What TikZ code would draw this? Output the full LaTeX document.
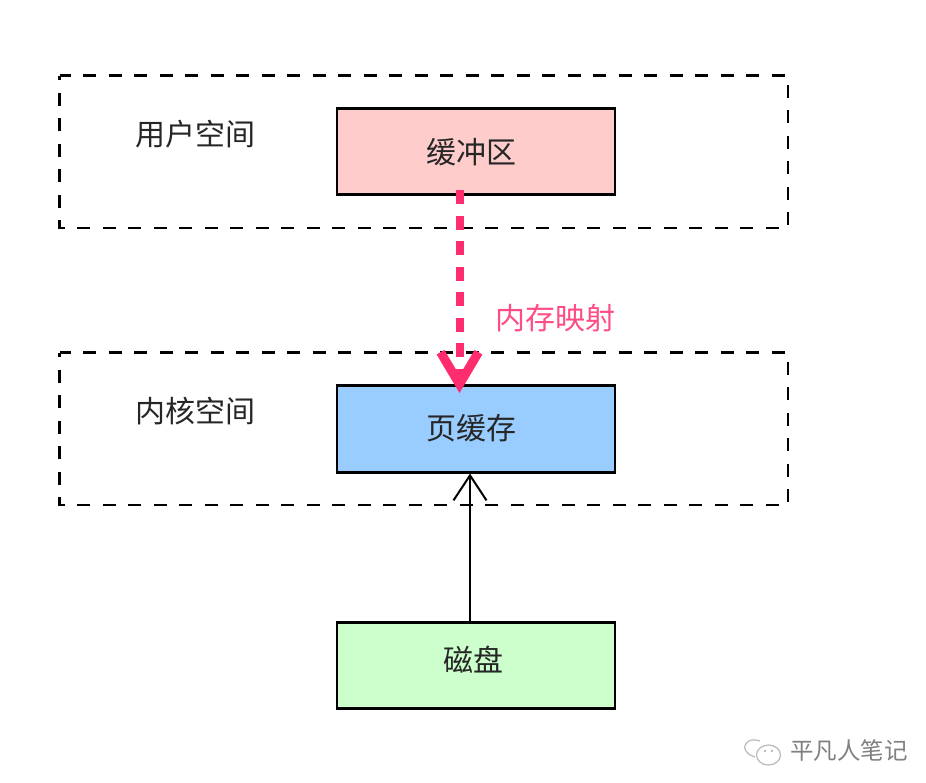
\documentclass[tikz,border=0pt]{standalone}
\usepackage{fontspec}
\setmainfont{Noto Sans CJK SC}
\usetikzlibrary{arrows.meta,calc}
\definecolor{pinkline}{HTML}{FF2D6E}
\definecolor{wm}{HTML}{808080}
\tikzset{
  x=1pt,y=-1pt,
  zone/.style={draw=black,line width=2.4pt,dash pattern=on 13pt off 12.5pt,dash phase=2pt},
  solidbox/.style={draw=black,line width=2.6pt,minimum width=278pt,minimum height=86.5pt,inner sep=0pt},
  boxlabel/.style={inner sep=0pt,font=\fontsize{30}{31}\selectfont,text=black!85},
  maplabel/.style={inner sep=0pt,font=\fontsize{30}{31}\selectfont,text=pinkline!85},
  wmlabel/.style={inner sep=0pt,font=\fontsize{23.5}{24}\selectfont,text=wm},
  maparrow/.style={draw=pinkline,line width=8pt,dash pattern=on 14pt off 11.5pt,-{Straight Barb[length=32pt,width=38pt,line width=9pt]}},
  readarrow/.style={draw=black,line width=2.6pt,-{Straight Barb[length=25pt,width=33pt,line width=2pt]}},
  bubble/.style={draw=wm!55,line width=1.2pt},
}
\begin{document}
\begin{tikzpicture}
\useasboundingbox (0,0) rectangle (926,782);
\fill[white] (0,0) rectangle (926,782);
\draw[zone] (59.5,75.5) -- (788,75.5) -- (788,228) -- (59.5,228) -- cycle;
\draw[zone] (59.5,352.5) -- (788,352.5) -- (788,505) -- (59.5,505) -- cycle;
\node[solidbox,fill={rgb,255:red,255;green,204;blue,204}] (buffer) at (476,151.5) {};
\node[solidbox,fill={rgb,255:red,153;green,204;blue,255}] (pagecache) at (476,429) {};
\node[solidbox,fill={rgb,255:red,204;green,255;blue,204}] (disk) at (476,665.5) {};
\node[boxlabel] (bufferlabel) at (471,152) {缓冲区};
\node[boxlabel] (pagecachelabel) at (471,428) {页缓存};
\node[boxlabel] (disklabel) at (473,660) {磁盘};
\node[boxlabel] (userspace) at (195.5,134) {用户空间};
\node[boxlabel] (kernelspace) at (195.5,411.5) {内核空间};
\node[maplabel] (maplabel) at (555,318) {内存映射};
\coordinate (mapstart) at (459.5,190);
\coordinate (mapend) at (459.5,393);
\draw[maparrow] (mapstart) -- (mapend);
\draw[readarrow] (disk.north -| 470,0) -- (pagecache.south -| 470,0);
\node[wmlabel] (wmtext) at (849,751) {平凡人笔记};
\draw[bubble] (755,757) .. controls (745,754) and (741,746) .. (749,741) .. controls (752,739) and (757,740) .. (760,741);
\draw[bubble] (768.5,755) circle[x radius=12,y radius=10];
\fill[wm!70] (765,751) circle[radius=1.1] (772,751) circle[radius=1.1];
\end{tikzpicture}
\end{document}
